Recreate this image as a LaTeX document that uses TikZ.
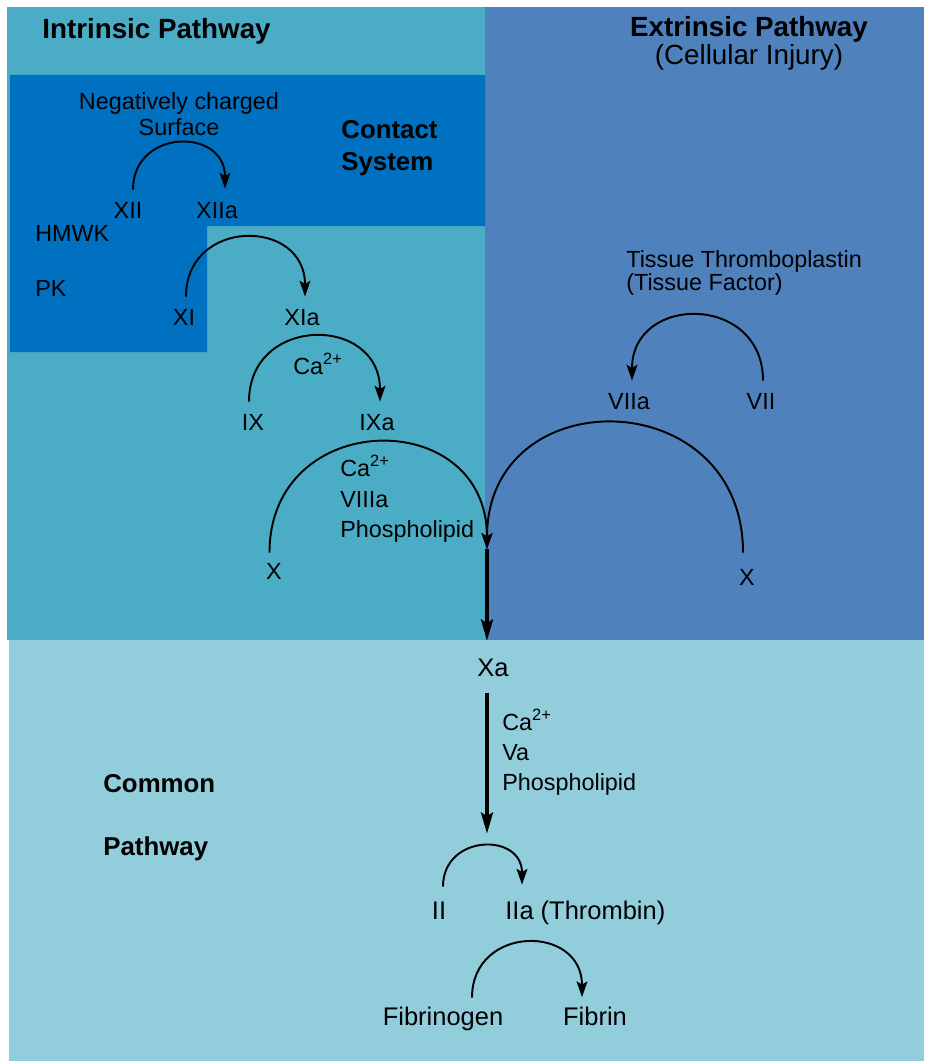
\documentclass[tikz,border=0pt]{standalone}
\usepackage{fontspec}
\setmainfont{Liberation Sans}
\usetikzlibrary{positioning,arrows.meta}
\definecolor{intrBlue}{HTML}{4BACC6}
\definecolor{extrBlue}{HTML}{4F81BD}
\definecolor{contBlue}{HTML}{0070C0}
\definecolor{commBlue}{HTML}{92CDDC}
\tikzset{F node/.style={inner sep=0pt,anchor=base,font=\fontsize{13.3}{16}\selectfont},
	B node/.style={inner sep=0pt,anchor=base,font=\fontsize{14.5}{17}\selectfont},
	T node/.style={inner sep=0pt,anchor=base,font=\bfseries\fontsize{15.8}{19}\selectfont},
	H node/.style={inner sep=0pt,anchor=base west,font=\bfseries\fontsize{14.7}{18}\selectfont},
	F arc/.style={line width=1.1pt,-{Stealth[length=9pt,width=6.2pt,inset=1.8pt]}},
	F main/.style={line width=2pt,-{Stealth[length=12pt,width=6.8pt,inset=2pt]}},}

\begin{document}
\begin{tikzpicture}[x=0.02cm,y=-0.02cm]
			\useasboundingbox (0,0) rectangle (924,1061);
			\fill[intrBlue] (7,7) rectangle (485,640);
			\fill[extrBlue] (485,7) rectangle (924,640);
			\fill[contBlue] (10,75) -- (485,75) -- (485,226) -- (207,226) -- (207,352) -- (10,352) -- cycle;
			\fill[commBlue] (9,640) rectangle (924,1061);

			\node[T node, anchor=base west] (intr) at (42,39) {Intrinsic Pathway};
			\node[T node] (extr) at (749,37) {Extrinsic Pathway};
			\node[T node, font=\fontsize{15.8}{19}\selectfont] (cell) at (749,65) {(Cellular Injury)};
			\node[F node, anchor=base west] (tf1) at (626,267) {Tissue Thromboplastin};
			\node[F node, anchor=base west] (tf2) at (626,290) {(Tissue Factor)};
			\node[F node] (neg1) at (179,110) {Negatively charged};
			\node[F node] (neg2) at (179,135) {Surface};
			\node[H node] (cont1) at (341,138) {Contact};
			\node[H node] (cont2) at (341,170) {System};

			\node[F node] (xii) at (128,218) {XII};
			\node[F node] (xiia) at (217,218) {XIIa};
			\node[F node, anchor=base west] (hmwk) at (35,241) {HMWK};
			\node[F node, anchor=base west] (pk) at (35,296) {PK};
			\node[F node] (xi) at (184,325) {XI};
			\node[F node] (xia) at (302,325) {XIa};
			\node[F node, anchor=base west] (ca1) at (293,374) {Ca\textsuperscript{2+}};
			\node[F node] (ix) at (253,430) {IX};
			\node[F node] (ixa) at (377,430) {IXa};
			\node[F node, anchor=base west] (ca2) at (340,476) {Ca\textsuperscript{2+}};
			\node[F node, anchor=base west] (viiia) at (340,507) {VIIIa};
			\node[F node, anchor=base west] (pl1) at (340,537) {Phospholipid};
			\node[F node] (xl) at (274,579) {X};

			\node[F node] (viia) at (629,409) {VIIa};
			\node[F node] (vii) at (761,409) {VII};
			\node[F node] (xr) at (747,585) {X};

			\node[B node] (xa) at (493,676) {Xa};
			\node[F node, anchor=base west] (ca3) at (502,730) {Ca\textsuperscript{2+}};
			\node[F node, anchor=base west] (va) at (502,760) {Va};
			\node[F node, anchor=base west] (pl2) at (502,790) {Phospholipid};
			\node[H node] (comm1) at (103,792) {Common};
			\node[H node] (comm2) at (103,855) {Pathway};
			\node[B node] (ii) at (439,919) {II};
			\node[B node, anchor=base west] (iia) at (505,919) {IIa (Thrombin)};
			\node[B node] (fbg) at (443,1025) {Fibrinogen};
			\node[B node] (fb) at (595,1025) {Fibrin};
			\coordinate (hub) at (487,549);

			\path[F arc]
				([xshift=0.1cm,yshift=0.24cm]xii.north) edge[out=90,in=90,looseness=1.7] ([xshift=0.16cm,yshift=0.26cm]xiia.north)
				([xshift=0.04cm,yshift=0.24cm]xi.north) edge[out=90,in=90,looseness=1.7] ([xshift=0.06cm,yshift=0.24cm]xia.north)
				([xshift=-0.08cm,yshift=0.24cm]ix.north) edge[out=90,in=90,looseness=1.7] ([xshift=0.06cm,yshift=0.24cm]ixa.north)
				([xshift=-0.09cm,yshift=0.2cm]xl.north) edge[out=90,in=90,looseness=1.7] (hub)
				([xshift=0.04cm,yshift=0.24cm]vii.north) edge[out=90,in=90,looseness=1.7] ([xshift=0.06cm,yshift=0.24cm]viia.north)
				([xshift=-0.08cm,yshift=0.32cm]xr.north) edge[out=90,in=90,looseness=1.7] (hub)
				([xshift=0.08cm,yshift=0.29cm]ii.north) edge[out=90,in=90,looseness=1.7] ([xshift=0.34cm,yshift=0.31cm]iia.north west)
				([xshift=0.58cm,yshift=0.17cm]fbg.north) edge[out=90,in=90,looseness=1.7] ([xshift=-0.26cm,yshift=0.18cm]fb.north);

			\draw[F main, shorten >=0.35cm] (hub) -- (hub |- xa.north);
			\draw[F main, shorten <=0.32cm, shorten >=1.35cm] (xa.south -| hub) -- (ii.north -| hub);
		\end{tikzpicture}
\end{document}
